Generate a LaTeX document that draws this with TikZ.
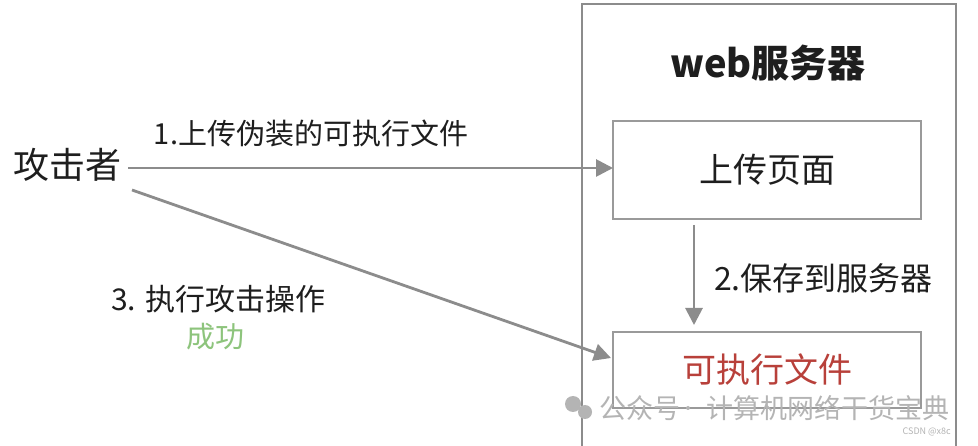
\documentclass[tikz,border=0pt]{standalone}
\usepackage{fontspec}
\setmainfont{Noto Sans CJK SC}
\usetikzlibrary{arrows.meta}
\definecolor{linegray}{HTML}{8C8C8C}
\definecolor{boxgray}{HTML}{9A9A9A}
\definecolor{txt}{HTML}{1E1E1E}
\definecolor{redtxt}{HTML}{B8403A}
\definecolor{greentxt}{HTML}{8DC47C}
\definecolor{wm}{HTML}{B4B4B4}
\newcommand{\fsz}[1]{\fontsize{#1}{#1}\selectfont}
\tikzset{
  conn/.style={draw=linegray, line width=2.8pt, -{Triangle[length=17pt,width=17pt]}},
  box/.style={draw=boxgray, line width=2.6pt, minimum width=308pt, minimum height=98pt, inner sep=0pt},
  lbl/.style={text=txt, inner sep=0pt, anchor=center},
  wmark/.style={text=wm, inner sep=0pt, font=\fsz{27}, anchor=west},
}
\begin{document}
\begin{tikzpicture}[x=1pt,y=-1pt]
\useasboundingbox (0,0) rectangle (978,446);
\fill[white] (0,0) rectangle (978,446);
% outer server frame
\draw[draw=linegray, line width=2.8pt] (582,460) -- (582,4) -- (956,4) -- (956,460);
\node[lbl, font=\fsz{38}\bfseries] (title) at (768,63) {web服务器};
% inner boxes
\node[box] (upload) at (767,170) {};
\node[lbl, font=\fsz{34}] (uploadtxt) at (upload.center) {上传页面};
\node[box, minimum height=76pt] (exe) at (767,370) {};
\node[lbl, font=\fsz{34}, text=redtxt] (exetxt) at (exe.center) {可执行文件};
% attacker
\node[lbl, font=\fsz{36}, anchor=west] (att) at (13,165) {攻击者};
\coordinate (a1) at (128,168);
\coordinate (a3) at (132,190);
\coordinate (t1) at (613,168);
\coordinate (t3) at (611,358);
\coordinate (s2) at (694,225);
\coordinate (e2) at (694,325);
\draw[conn] (a1) -- (t1);
\draw[conn] (a3) -- (t3);
\draw[conn] (s2) -- (e2);
\node[lbl, font=\fsz{29}] (l1) at (311,133) {1.上传伪装的可执行文件};
\node[lbl, font=\fsz{32}, anchor=west] (l2) at (714,278) {2.保存到服务器};
\node[lbl, font=\fsz{30}, anchor=west] (l3) at (111,299) {3. 执行攻击操作};
\node[lbl, font=\fsz{29}, text=greentxt] (l4) at (215,337) {成功};
% watermark
\fill[wm] (573,404) circle (8pt);
\fill[wm] (585,412) circle (7pt);
\node[wmark] (wm1) at (599,408) {公众号};
\fill[wm] (688,408) circle (2pt);
\node[wmark] (wm2) at (706,408) {计算机网络干货宝典};
\node[lbl, font=\fsz{9}, text=wm, anchor=east] (csdn) at (951,432) {CSDN @x8c};
\end{tikzpicture}
\end{document}
